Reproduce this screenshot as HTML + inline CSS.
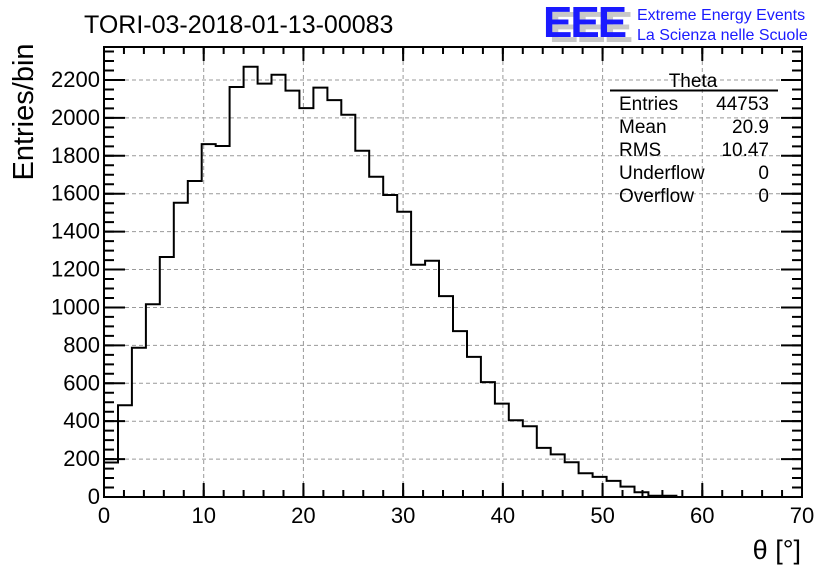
<!DOCTYPE html>
<html><head><meta charset="utf-8"><style>
html,body{margin:0;padding:0;background:#fff;}
svg{display:block;font-family:"Liberation Sans",sans-serif;}
</style></head><body>
<svg width="836" height="572" viewBox="0 0 836 572" xmlns="http://www.w3.org/2000/svg">
<rect width="836" height="572" fill="#fff"/>
<g stroke="#999" stroke-width="1" stroke-dasharray="4,3" fill="none">
<path d="M203.7,47V497M303.4,47V497M403.1,47V497M502.9,47V497M602.6,47V497M702.3,47V497"/>
<path d="M104,459.1H802M104,421.2H802M104,383.3H802M104,345.4H802M104,307.5H802M104,269.5H802M104,231.6H802M104,193.7H802M104,155.8H802M104,117.9H802M104,80H802"/>
</g>
<g stroke="#000" fill="none">
<line x1="103" y1="493.5" x2="803" y2="493.5" stroke-width="7" stroke-dasharray="2,17.943"/>
<line x1="103" y1="490" x2="803" y2="490" stroke-width="14" stroke-dasharray="2,97.714"/>
<line x1="103" y1="50.5" x2="803" y2="50.5" stroke-width="7" stroke-dasharray="2,17.943"/>
<line x1="103" y1="54" x2="803" y2="54" stroke-width="14" stroke-dasharray="2,97.714"/>
<line x1="109" y1="498" x2="109" y2="47" stroke-width="10" stroke-dasharray="2,7.4775"/>
<line x1="114.5" y1="498" x2="114.5" y2="47" stroke-width="21" stroke-dasharray="2,35.91"/>
<line x1="797" y1="498" x2="797" y2="47" stroke-width="10" stroke-dasharray="2,7.4775"/>
<line x1="791.5" y1="498" x2="791.5" y2="47" stroke-width="21" stroke-dasharray="2,35.91"/>
</g>
<path fill="none" stroke="#000" stroke-width="2" d="M104,497V462.5H118V405.3H131.9V347.8H145.9V304.2H159.8V257H173.8V202.8H187.8V181H201.7V144.1H215.7V146H229.6V87H243.6V66.7H257.6V83.6H271.5V74.7H285.5V90.6H299.4V108.1H313.4V87.6H327.4V100.1H341.3V114.7H355.3V150.7H369.2V176.7H383.2V195H397.2V211.7H411.1V264.8H425.1V260.8H439V296.1H453V331.1H467V356.9H480.9V382.1H494.9V403.6H508.8V420.2H522.8V426.3H536.8V447.9H550.7V454.4H564.7V462.3H578.6V473.3H592.6V476.9H606.6V480.9H620.5V486.6H634.5V492.3H648.4V495.7H676.4V497"/>
<rect x="104" y="47" width="698" height="450" fill="none" stroke="#000" stroke-width="2"/>
<g font-size="22" fill="#000" text-anchor="middle">
<text x="104" y="523">0</text><text x="203.7" y="523">10</text><text x="303.4" y="523">20</text><text x="403.1" y="523">30</text><text x="502.9" y="523">40</text><text x="602.6" y="523">50</text><text x="702.3" y="523">60</text><text x="802" y="523">70</text>
</g>
<g font-size="22" fill="#000" text-anchor="end">
<text x="100" y="504">0</text><text x="100" y="466.1">200</text><text x="100" y="428.2">400</text><text x="100" y="390.3">600</text><text x="100" y="352.4">800</text><text x="100" y="314.5">1000</text><text x="100" y="276.5">1200</text><text x="100" y="238.6">1400</text><text x="100" y="200.7">1600</text><text x="100" y="162.8">1800</text><text x="100" y="124.9">2000</text><text x="100" y="87">2200</text>
</g>
<text x="84" y="33" font-size="25">TORI-03-2018-01-13-00083</text>
<text transform="translate(33,112) rotate(-90)" font-size="29" text-anchor="middle">Entries/bin</text>
<text x="801" y="559" font-size="27" text-anchor="end">θ [°]</text>
<g font-size="44" font-weight="bold" letter-spacing="-2">
<text x="549" y="42" fill="#c8c8c8">EEE</text>
<text x="543" y="37" fill="#1a1aff">EEE</text>
</g>
<text x="637" y="20" font-size="16" fill="#1a1aff">Extreme Energy Events</text>
<text x="637" y="40" font-size="16" fill="#1a1aff">La Scienza nelle Scuole</text>
<g font-size="19" fill="#000">
<text x="693" y="87" text-anchor="middle">Theta</text>
<line x1="610" y1="90.5" x2="778" y2="90.5" stroke="#000" stroke-width="2"/>
<text x="619" y="110">Entries</text><text x="769" y="110" text-anchor="end">44753</text>
<text x="619" y="133">Mean</text><text x="769" y="133" text-anchor="end">20.9</text>
<text x="619" y="156">RMS</text><text x="769" y="156" text-anchor="end">10.47</text>
<text x="619" y="179">Underflow</text><text x="769" y="179" text-anchor="end">0</text>
<text x="619" y="202">Overflow</text><text x="769" y="202" text-anchor="end">0</text>
</g>
</svg>
</body></html>
